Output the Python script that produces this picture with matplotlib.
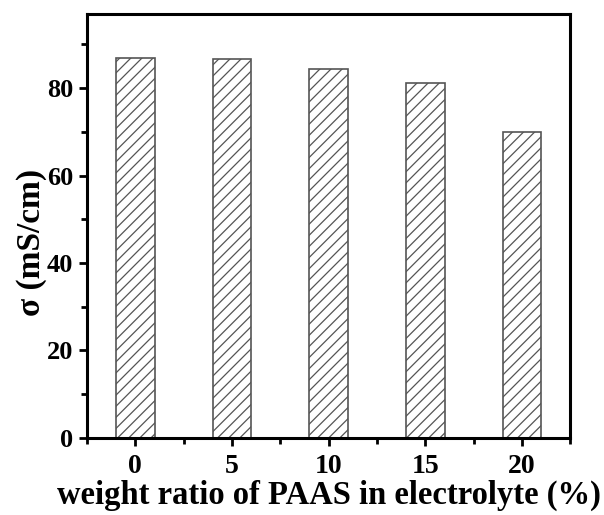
import numpy as np
import matplotlib
matplotlib.use('Agg')
import matplotlib.pyplot as plt
from matplotlib.ticker import MultipleLocator

# data
ratio = [0, 5, 10, 15, 20]
sigma = [87.0, 86.6, 84.5, 81.1, 69.9]

plt.rcParams['font.family'] = 'Liberation Serif'
plt.rcParams['font.weight'] = 'bold'
plt.rcParams['hatch.linewidth'] = 0.9
plt.rcParams['hatch.color'] = '#333333'

fig = plt.figure(figsize=(6.04, 5.15), dpi=100)
ax = fig.add_axes([0.144, 0.150, 0.800, 0.823])

ax.bar(ratio, sigma, width=2.0, color='white', edgecolor='#555555', linewidth=1.2, hatch='///')

ax.set_xlim(-2.5, 22.5)
ax.set_ylim(0, 97)
ax.xaxis.set_major_locator(MultipleLocator(5))
ax.xaxis.set_minor_locator(MultipleLocator(2.5))
ax.yaxis.set_major_locator(MultipleLocator(20))
ax.yaxis.set_minor_locator(MultipleLocator(10))

for s in ax.spines.values():
    s.set_linewidth(2.2)
ax.tick_params(which='major', direction='out', length=6, width=2)
ax.tick_params(which='minor', direction='out', length=4, width=2)
ax.tick_params(axis='y', labelsize=19, pad=4)
ax.tick_params(axis='x', labelsize=20, pad=6)

ax.set_xlabel('weight ratio of PAAS in electrolyte (%)', fontsize=23.5, fontweight='bold', labelpad=0)
ax.set_ylabel('σ (mS/cm)', fontsize=24, fontweight='bold', labelpad=0)
ax.yaxis.label.set_y(0.46)

fig.savefig('out.png', dpi=100)
